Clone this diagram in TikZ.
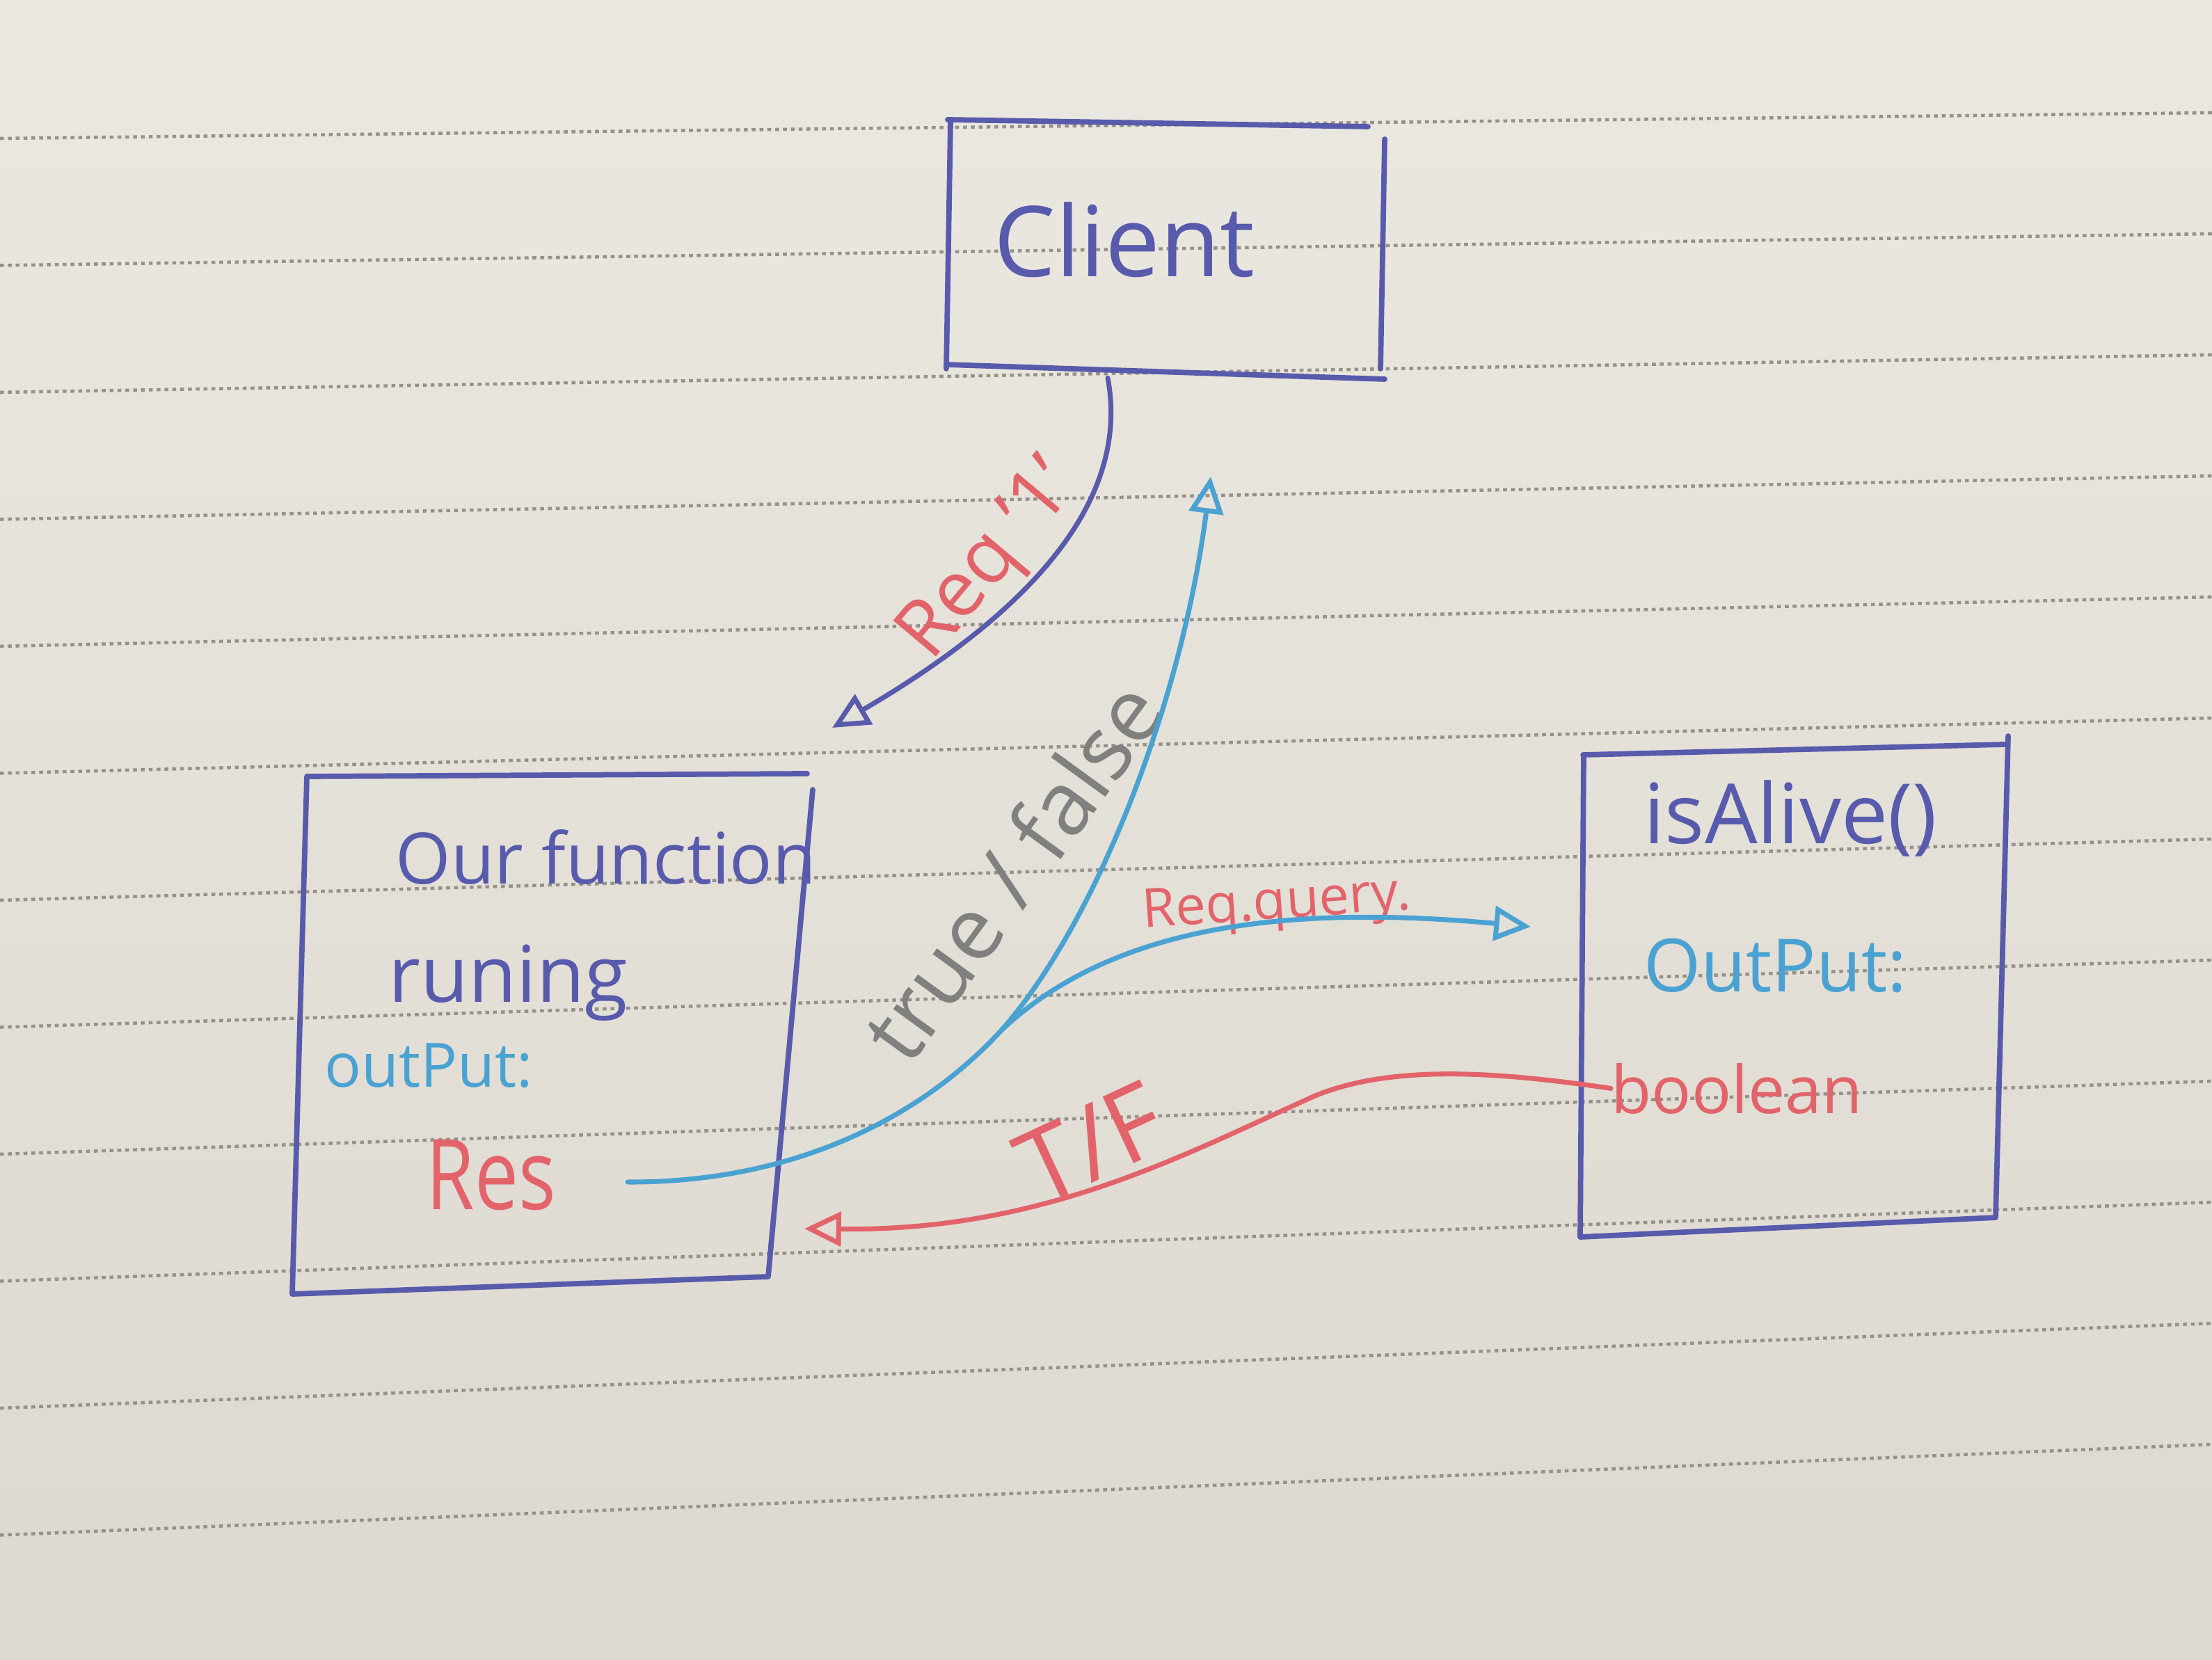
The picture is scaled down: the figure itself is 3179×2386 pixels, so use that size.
\documentclass[tikz,border=0pt]{standalone}
\usepackage{fontspec}
\setmainfont{Open Sans}
\usetikzlibrary{arrows.meta,calc}
\definecolor{paperA}{RGB}{235,232,225}
\definecolor{paperB}{RGB}{221,217,208}
\definecolor{ruling}{RGB}{150,146,138}
\definecolor{inkblue}{RGB}{88,90,172}
\definecolor{inkred}{RGB}{226,100,106}
\definecolor{inkcyan}{RGB}{74,162,210}
\definecolor{inkgray}{RGB}{128,128,126}
\begin{document}
\begin{tikzpicture}[x=0.01cm,y=-0.01cm,
  boxline/.style={draw=inkblue,line width=2.2pt,line cap=round,line join=round},
  hw/.style={inner sep=0pt},
  conn/.style={draw=#1,line width=2pt,line cap=round,
    -{Triangle[open,length=15pt,width=14pt,line width=2pt]}},
  plain/.style={draw=#1,line width=2pt,line cap=round},
  paperline/.style={draw=ruling,line width=1.3pt,dash pattern=on 1.6pt off 1.6pt}]
% paper
\shade[top color=paperA,bottom color=paperB] (0,0) rectangle (3179,2386);
\useasboundingbox (0,0) rectangle (3179,2386);
\foreach \k in {0,...,11}
  \draw[paperline] (0,{199+182.5*\k}) -- (3179,{162+174*\k});

% boxes (named areas, outlines drawn by hand)
\node[hw,minimum width=6.29cm,minimum height=3.65cm] (client) at (1672,360) {};
\node[hw,minimum width=7.10cm,minimum height=7.25cm] (fn) at (780,1475) {};
\node[hw,minimum width=5.98cm,minimum height=6.89cm] (alive) at (2573,1420) {};
% client outline (four strokes with small gaps)
\draw[boxline] (1362,172) -- (1966,182);
\draw[boxline] (1990,200) -- (1984,530);
\draw[boxline] (1360,530) -- (1366,176);
\draw[boxline] (1360,524) -- (1990,545);
% function outline
\draw[boxline] (441,1116) -- (1160,1112) (1168,1135) -- (1104,1835) -- (420,1860) -- (441,1116);
% isAlive outline
\draw[boxline] (2275,1085) -- (2880,1070) (2886,1058) -- (2868,1750) -- (2271,1778) -- (2276,1085);

% texts
\node[hw,text=inkblue] (clienttxt) at (1616,345) {\fontsize{40}{48}\selectfont Client};
\node[hw,text=inkblue,anchor=base west] (ourfn) at (568,1270) {\fontsize{29}{34}\selectfont Our function};
\node[hw,text=inkblue,anchor=base west] (runing) at (558,1440) {\fontsize{32}{38}\selectfont runing};
\node[hw,text=inkcyan,anchor=base west] (outl) at (466,1562) {\fontsize{25}{30}\selectfont outPut:};
\node[hw,text=inkred,anchor=base west,xscale=0.8] (res) at (612,1738) {\fontsize{40}{48}\selectfont Res};
\node[hw,text=inkblue,anchor=base west] (isalive) at (2362,1212) {\fontsize{34}{40}\selectfont isAlive()};
\node[hw,text=inkcyan,anchor=base west] (outr) at (2362,1425) {\fontsize{30}{36}\selectfont OutPut:};
\node[hw,text=inkred,anchor=base west] (bool) at (2315,1600) {\fontsize{27}{32}\selectfont boolean};

% connector labels
\node[hw,text=inkred,rotate=50] (reqlbl) at (1425,808) {\fontsize{32}{38}\selectfont Req '1'};
\node[hw,text=inkgray,rotate=54] (tflbl) at (1454,1251) {\fontsize{36}{42}\selectfont true / false};
\node[hw,text=inkred,rotate=4] (querylbl) at (1835,1302) {\fontsize{22}{26}\selectfont Req.query.};
\node[hw,text=inkred,rotate=25,anchor=south] (tfshort) at (1590,1692) {\fontsize{42}{48}\selectfont T/F};

% free ends
\coordinate (reqtip) at (1196,1046);
\coordinate (resout) at (902,1699);
\coordinate (split) at (1440,1480);
\coordinate (uptip) at (1740,685);
\coordinate (querytip) at (2200,1332);
\coordinate (tfbend) at (1890,1575);
\coordinate (tftip) at (1156,1766);

% connectors
\draw[conn=inkblue] ($(client.south)+(-80,0)$) .. controls (1625,720) and (1480,880) .. (reqtip);
\draw[plain=inkcyan] (resout) .. controls (1150,1700) and (1330,1600) .. (split);
\draw[conn=inkcyan] (split) .. controls (1580,1320) and (1700,1000) .. (uptip);
\draw[conn=inkcyan] (split) .. controls (1600,1330) and (1850,1300) .. (querytip);
\draw[plain=inkred] (bool.west) .. controls (2150,1540) and (2000,1530) .. (tfbend);
\draw[conn=inkred] (tfbend) .. controls (1700,1660) and (1500,1770) .. (tftip);
\end{tikzpicture}
\end{document}
